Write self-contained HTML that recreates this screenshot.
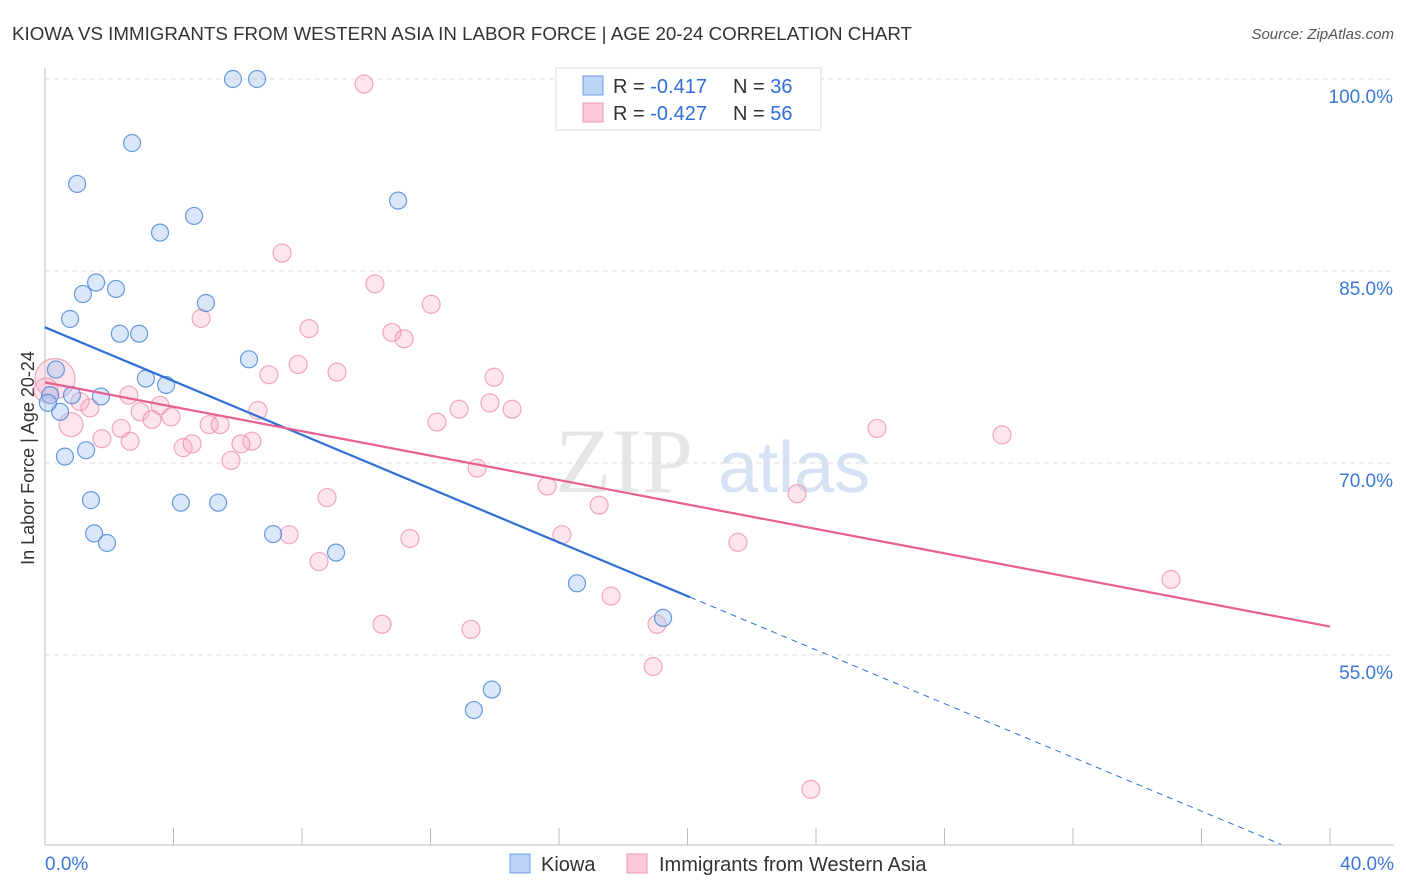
<!DOCTYPE html>
<html><head><meta charset="utf-8"><style>
body{margin:0;background:#fff;font-family:"Liberation Sans",sans-serif;}
svg{display:block}
</style></head><body>
<svg id="chart" width="1406" height="892" xmlns="http://www.w3.org/2000/svg">
<text x="12" y="40" font-size="18.5" fill="#333" textLength="900" lengthAdjust="spacingAndGlyphs">KIOWA VS IMMIGRANTS FROM WESTERN ASIA IN LABOR FORCE | AGE 20-24 CORRELATION CHART</text>
<text x="1394" y="39" font-size="15" fill="#555" text-anchor="end" font-style="italic">Source: ZipAtlas.com</text>
<text x="555" y="492" font-size="92" fill="#e6e6e6" font-family="Liberation Serif,serif">ZIP</text>
<text x="718" y="492" font-size="72" fill="#d4e2f3">atlas</text>
<text transform="translate(34,458) rotate(-90)" font-size="18" fill="#333" text-anchor="middle">In Labor Force | Age 20-24</text>
<g id="grid"></g><g id="pts"></g><g id="lines"></g>
<g>
<rect x="556" y="68" width="265" height="62" fill="#fff" stroke="#ddd"/>
<rect x="583" y="76" width="20" height="19" fill="#bcd4f5" stroke="#6d9de0"/>
<rect x="583" y="103" width="20" height="19" fill="#fbcad8" stroke="#ee9ab4"/>
<text x="613" y="93" font-size="20" fill="#333">R = <tspan fill="#2f6fd6"> -0.417</tspan><tspan x="733">N = </tspan><tspan fill="#2f6fd6">36</tspan></text>
<text x="613" y="120" font-size="20" fill="#333">R = <tspan fill="#2f6fd6">-0.427</tspan><tspan x="733">N = </tspan><tspan fill="#2f6fd6">56</tspan></text>
</g>
<g>
<rect x="510" y="854" width="20" height="19" fill="#bcd4f5" stroke="#6d9de0"/>
<text x="541" y="871" font-size="20" fill="#333">Kiowa</text>
<rect x="627" y="854" width="20" height="19" fill="#fbcad8" stroke="#ee9ab4"/>
<text x="659" y="871" font-size="20" fill="#333">Immigrants from Western Asia</text>
</g>
</svg>
<script>
const yTicks=[100,85,70,55];
const yTickLabels=["100.0%","85.0%","70.0%","55.0%"];
const xTickLabels=["0.0%","40.0%"];
const kiowaX=[5.85,6.60,2.71,1.00,10.99,4.64,3.58,1.59,1.18,2.21,5.01,0.78,2.33,2.93,6.35,0.34,3.14,3.77,0.16,0.84,1.74,0.47,0.09,1.28,0.62,1.43,4.23,5.39,1.53,1.93,7.10,9.06,16.56,19.24,13.91,13.35];
const kiowaY=[100,100,95.0,91.8,90.5,89.3,88.0,84.1,83.2,83.6,82.5,81.25,80.1,80.1,78.1,77.3,76.6,76.1,75.3,75.3,75.2,74.0,74.7,71.0,70.5,67.1,66.9,66.9,64.5,63.75,64.45,63.0,60.6,57.9,52.3,50.7];
const immX=[9.93,7.38,10.27,12.02,4.86,8.22,10.80,11.18,7.88,9.09,6.97,13.98,0.31,0.03,2.61,1.09,13.85,3.58,1.40,6.63,12.89,14.54,2.96,3.92,3.33,12.20,2.37,5.11,5.45,25.90,29.79,0.81,1.77,2.65,4.30,4.58,6.44,6.10,5.79,13.45,15.63,23.41,8.78,17.25,7.60,16.09,11.36,21.57,8.53,35.05,17.62,10.49,13.26,19.05,18.93,23.84];
const immY=[99.6,86.4,84.0,82.4,81.3,80.5,80.2,79.7,77.7,77.1,76.9,76.7,76.6,75.7,75.3,74.8,74.7,74.5,74.3,74.1,74.2,74.2,74.0,73.6,73.4,73.2,72.7,73.0,73.0,72.7,72.2,73.0,71.9,71.7,71.2,71.5,71.7,71.5,70.2,69.6,68.2,67.6,67.3,66.7,64.4,64.4,64.1,63.8,62.3,60.9,59.6,57.4,57.0,57.4,54.1,44.5];
const immR=[9,9,9,9,9,9,9,9,9,9,9,9,20,12,9,9,9,9,9,9,9,9,9,9,9,9,9,9,9,9,9,12,9,9,9,9,9,9,9,9,9,9,9,9,9,9,9,9,9,9,9,9,9,9,9,9];
const kiowaTrend=[80.6,-1.05,20.08];
const immTrend=[76.3,-0.477];
const NS="http://www.w3.org/2000/svg";
const X=v=>45+v*32.125, Y=v=>79+(100-v)*12.8;
function mk(t,a,p){const e=document.createElementNS(NS,t);for(const k in a)e.setAttribute(k,a[k]);p.appendChild(e);return e;}
const grid=document.getElementById('grid');
yTicks.forEach((t,i)=>{
 const l=mk('line',{x1:45,x2:1394,y1:Y(t),y2:Y(t),stroke:'#ddd','stroke-dasharray':'5,4'},grid);
 
 
 const tx=mk('text',{x:1393,y:Y(t)+24,'font-size':19,fill:'#3b78d8','text-anchor':'end'},grid);tx.textContent=yTickLabels[i];
 
 
});
const ax=mk('line',{x1:45,x2:45,y1:68,y2:845,stroke:'#bbb'},grid);


const bx=mk('line',{x1:45,x2:1394,y1:845,y2:845,stroke:'#bbb'},grid);


for(let i=1;i<=10;i++){const v=i*4;const t=mk('line',{x1:X(v),x2:X(v),y1:828,y2:845,stroke:'#bbb'},grid);
 
 }
[[0,'start',45],[40,'end',1394]].forEach((d,i)=>{const t=mk('text',{x:d[2],y:870,'font-size':19,fill:'#3b78d8','text-anchor':d[1]},grid);t.textContent=xTickLabels[i];
 
 });
const pts=document.getElementById('pts');
immX.forEach((x,i)=>{const c=mk('circle',{cx:X(x),cy:Y(immY[i]),r:immR[i],fill:'rgba(246,168,192,0.3)',stroke:'rgba(236,140,170,0.75)','stroke-width':1.2},pts);
 
 });
kiowaX.forEach((x,i)=>{const c=mk('circle',{cx:X(x),cy:Y(kiowaY[i]),r:8.5,fill:'rgba(160,195,240,0.4)',stroke:'rgba(70,130,215,0.8)','stroke-width':1.2},pts);
 
 });
const lines=document.getElementById('lines');
const kb=kiowaTrend;
let l1=mk('line',{x1:X(0),y1:Y(kb[0]),x2:X(kb[2]),y2:Y(kb[0]+kb[1]*kb[2]),stroke:'#2f6fd6','stroke-width':2.2},lines);


const xe=(kb[0]-40.2)/-kb[1];
let l2=mk('line',{x1:X(kb[2]),y1:Y(kb[0]+kb[1]*kb[2]),x2:X(xe),y2:Y(kb[0]+kb[1]*xe),stroke:'#2f6fd6','stroke-width':1,'stroke-dasharray':'6,5'},lines);


let l3=mk('line',{x1:X(0),y1:Y(immTrend[0]),x2:X(40),y2:Y(immTrend[0]+immTrend[1]*40),stroke:'#e8608f','stroke-width':2.2},lines);


</script>
</body></html>
